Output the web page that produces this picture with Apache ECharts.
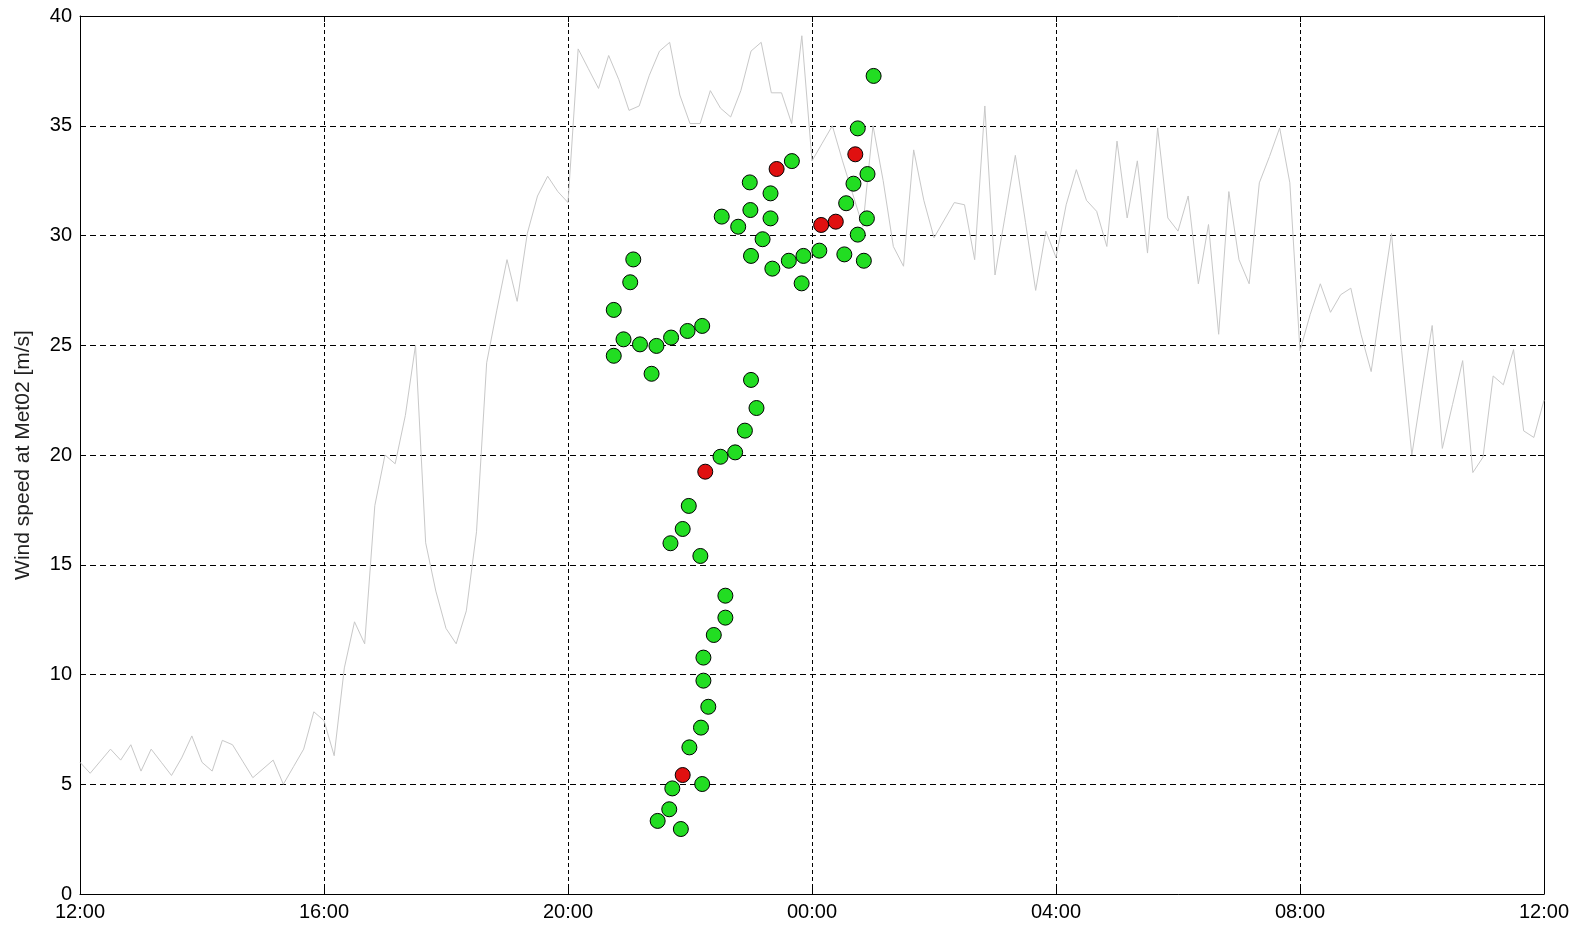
<!DOCTYPE html>
<html>
<head>
<meta charset="utf-8">
<script src="https://cdn.jsdelivr.net/npm/echarts@6/dist/echarts.min.js"></script>
<style>
html,body{margin:0;padding:0;background:#fff;}
#chart{width:1584px;height:926px;}
</style>
</head>
<body>
<div id="chart"></div>
<script>
// Time axis: hours after 12:00, tick labels
const timeTickLabels = ['12:00', '16:00', '20:00', '00:00', '04:00', '08:00', '12:00'];
const sampleStepMinutes = 10;

// Gray line: wind speed at Met02 every 10 minutes from 12:00 to 12:00 (m/s)
const windSpeed = [
  6.0, 5.5, 6.05, 6.6, 6.1, 6.8, 5.6, 6.6, 6.0, 5.4, 6.2, 7.2, 6.0, 5.6, 7.0, 6.8, 6.05, 5.3, 5.7, 6.1, 5.0, 5.8, 6.6, 8.3,
  7.9, 6.3, 10.3, 12.4, 11.4, 17.7, 20.0, 19.6, 21.8, 25.0, 16.0, 13.8, 12.1, 11.4, 12.9, 16.5, 24.2, 26.6, 28.9, 27.0, 30.1, 31.8, 32.7, 32.0,
  31.5, 38.5, 37.6, 36.7, 38.2, 37.1, 35.7, 35.9, 37.3, 38.4, 38.8, 36.4, 35.1, 35.1, 36.6, 35.8, 35.4, 36.6, 38.4, 38.8, 36.5, 36.5, 35.1, 39.1,
  33.4, 34.2, 35.0, 33.4, 31.9, 30.4, 35.0, 32.5, 29.5, 28.6, 33.9, 31.6, 29.9, 30.7, 31.5, 31.4, 28.9, 35.9, 28.2, 30.9, 33.65, 30.6, 27.5, 30.2,
  29.0, 31.4, 33.0, 31.6, 31.1, 29.5, 34.3, 30.8, 33.4, 29.2, 34.9, 30.8, 30.2, 31.8, 27.8, 30.5, 25.5, 32.0, 28.9, 27.8, 32.4, 33.6, 34.9, 32.4,
  24.75, 26.4, 27.8, 26.5, 27.3, 27.6, 25.5, 23.8, 27.0, 30.1, 24.75, 20.0, 23.0, 25.9, 20.3, 22.3, 24.3, 19.2, 19.9, 23.6, 23.2, 24.8, 21.1, 20.8, 22.5
];

// Green markers: time (hours after 12:00) and wind speed
const greenTimes = [
  13.01, 12.75, 11.67, 12.91, 12.68, 10.98, 11.32, 12.56, 10.99, 11.32, 12.90, 10.52, 10.79, 12.75,
  11.19, 11.00, 12.12, 11.86, 12.53, 11.62, 12.85, 11.35, 11.83, 9.07, 9.02, 8.75, 10.20, 9.96,
  9.69, 8.91, 9.18, 9.45, 8.75, 9.37, 11.00, 11.09, 10.90, 10.74, 10.50, 9.98, 9.88, 9.68,
  10.17, 10.58, 10.58, 10.39, 10.22, 10.22, 10.30, 10.18, 9.99, 9.71, 10.20, 9.66, 9.47, 9.85
];
const greenSpeeds = [
  37.27, 34.88, 33.39, 32.80, 32.36, 32.42, 31.92, 31.47, 31.16, 30.78, 30.78, 30.86, 30.40, 30.04,
  29.83, 29.07, 29.31, 29.07, 29.14, 28.85, 28.85, 28.49, 27.82, 28.91, 27.87, 26.61, 25.88, 25.65,
  25.35, 25.27, 25.04, 24.97, 24.52, 23.70, 23.42, 22.14, 21.11, 20.12, 19.92, 17.68, 16.63, 15.98,
  15.40, 13.59, 12.59, 11.80, 10.77, 9.72, 8.53, 7.58, 6.68, 4.81, 5.01, 3.86, 3.33, 2.96
];

// Red markers
const redTimes = [12.71, 11.42, 12.15, 12.39, 10.25, 9.88];
const redSpeeds = [33.70, 33.03, 30.48, 30.63, 19.24, 5.42];

const lineData = windSpeed.map((v, i) => [i * sampleStepMinutes / 60, v]);
const greenData = greenTimes.map((t, i) => [t, greenSpeeds[i]]);
const redData = redTimes.map((t, i) => [t, redSpeeds[i]]);

const FONT = '"Liberation Sans", Arial, sans-serif';
const chart = echarts.init(document.getElementById('chart'), null, {renderer: 'canvas'});

const baseX = {
  type: 'value', min: 0, max: 24, interval: 4
};
const baseY = {
  type: 'value', min: 0, max: 40, interval: 5
};

chart.setOption({
  animation: false,
  backgroundColor: '#ffffff',
  grid: {left: 80, right: 40, top: 16, bottom: 32, show: false},
  xAxis: [
    Object.assign({}, baseX, {
      position: 'bottom',
      axisLine: {show: true, onZero: false, lineStyle: {color: '#000', width: 1}},
      axisTick: {show: true, inside: true, length: 6, lineStyle: {color: '#000'}},
      axisLabel: {
        show: true, color: '#000', fontFamily: FONT, fontSize: 20, margin: 8,
        formatter: function (v) { return timeTickLabels[Math.round(v / 4)]; }
      },
      splitLine: {show: true, lineStyle: {color: '#000', type: [4, 3], width: 1}}
    }),
    Object.assign({}, baseX, {
      position: 'top',
      axisLine: {show: true, onZero: false, lineStyle: {color: '#000', width: 1}},
      axisTick: {show: true, inside: true, length: 6, lineStyle: {color: '#000'}},
      axisLabel: {show: false},
      splitLine: {show: false}
    })
  ],
  yAxis: [
    Object.assign({}, baseY, {
      position: 'left',
      name: 'Wind speed at Met02 [m/s]',
      nameLocation: 'middle',
      nameGap: 46,
      nameTextStyle: {color: '#222', fontFamily: FONT, fontSize: 21},
      axisLine: {show: true, onZero: false, lineStyle: {color: '#000', width: 1}},
      axisTick: {show: true, inside: true, length: 6, lineStyle: {color: '#000'}},
      axisLabel: {show: true, color: '#000', fontFamily: FONT, fontSize: 20, margin: 8},
      splitLine: {show: true, lineStyle: {color: '#000', type: [6, 4], width: 1}}
    }),
    Object.assign({}, baseY, {
      position: 'right',
      axisLine: {show: true, onZero: false, lineStyle: {color: '#000', width: 1}},
      axisTick: {show: true, inside: true, length: 6, lineStyle: {color: '#000'}},
      axisLabel: {show: false},
      splitLine: {show: false}
    })
  ],
  series: [
    {
      type: 'line',
      xAxisIndex: 0, yAxisIndex: 0,
      data: lineData,
      showSymbol: false,
      lineStyle: {color: '#c8c8c8', width: 1},
      z: 2
    },
    {
      type: 'scatter',
      xAxisIndex: 0, yAxisIndex: 0,
      data: greenData,
      symbol: 'circle',
      symbolSize: 15,
      itemStyle: {color: '#22dd22', borderColor: '#000', borderWidth: 1, opacity: 1},
      z: 3
    },
    {
      type: 'scatter',
      xAxisIndex: 0, yAxisIndex: 0,
      data: redData,
      symbol: 'circle',
      symbolSize: 15,
      itemStyle: {color: '#e01010', borderColor: '#000', borderWidth: 1, opacity: 1},
      z: 4
    }
  ]
});
</script>
</body>
</html>
